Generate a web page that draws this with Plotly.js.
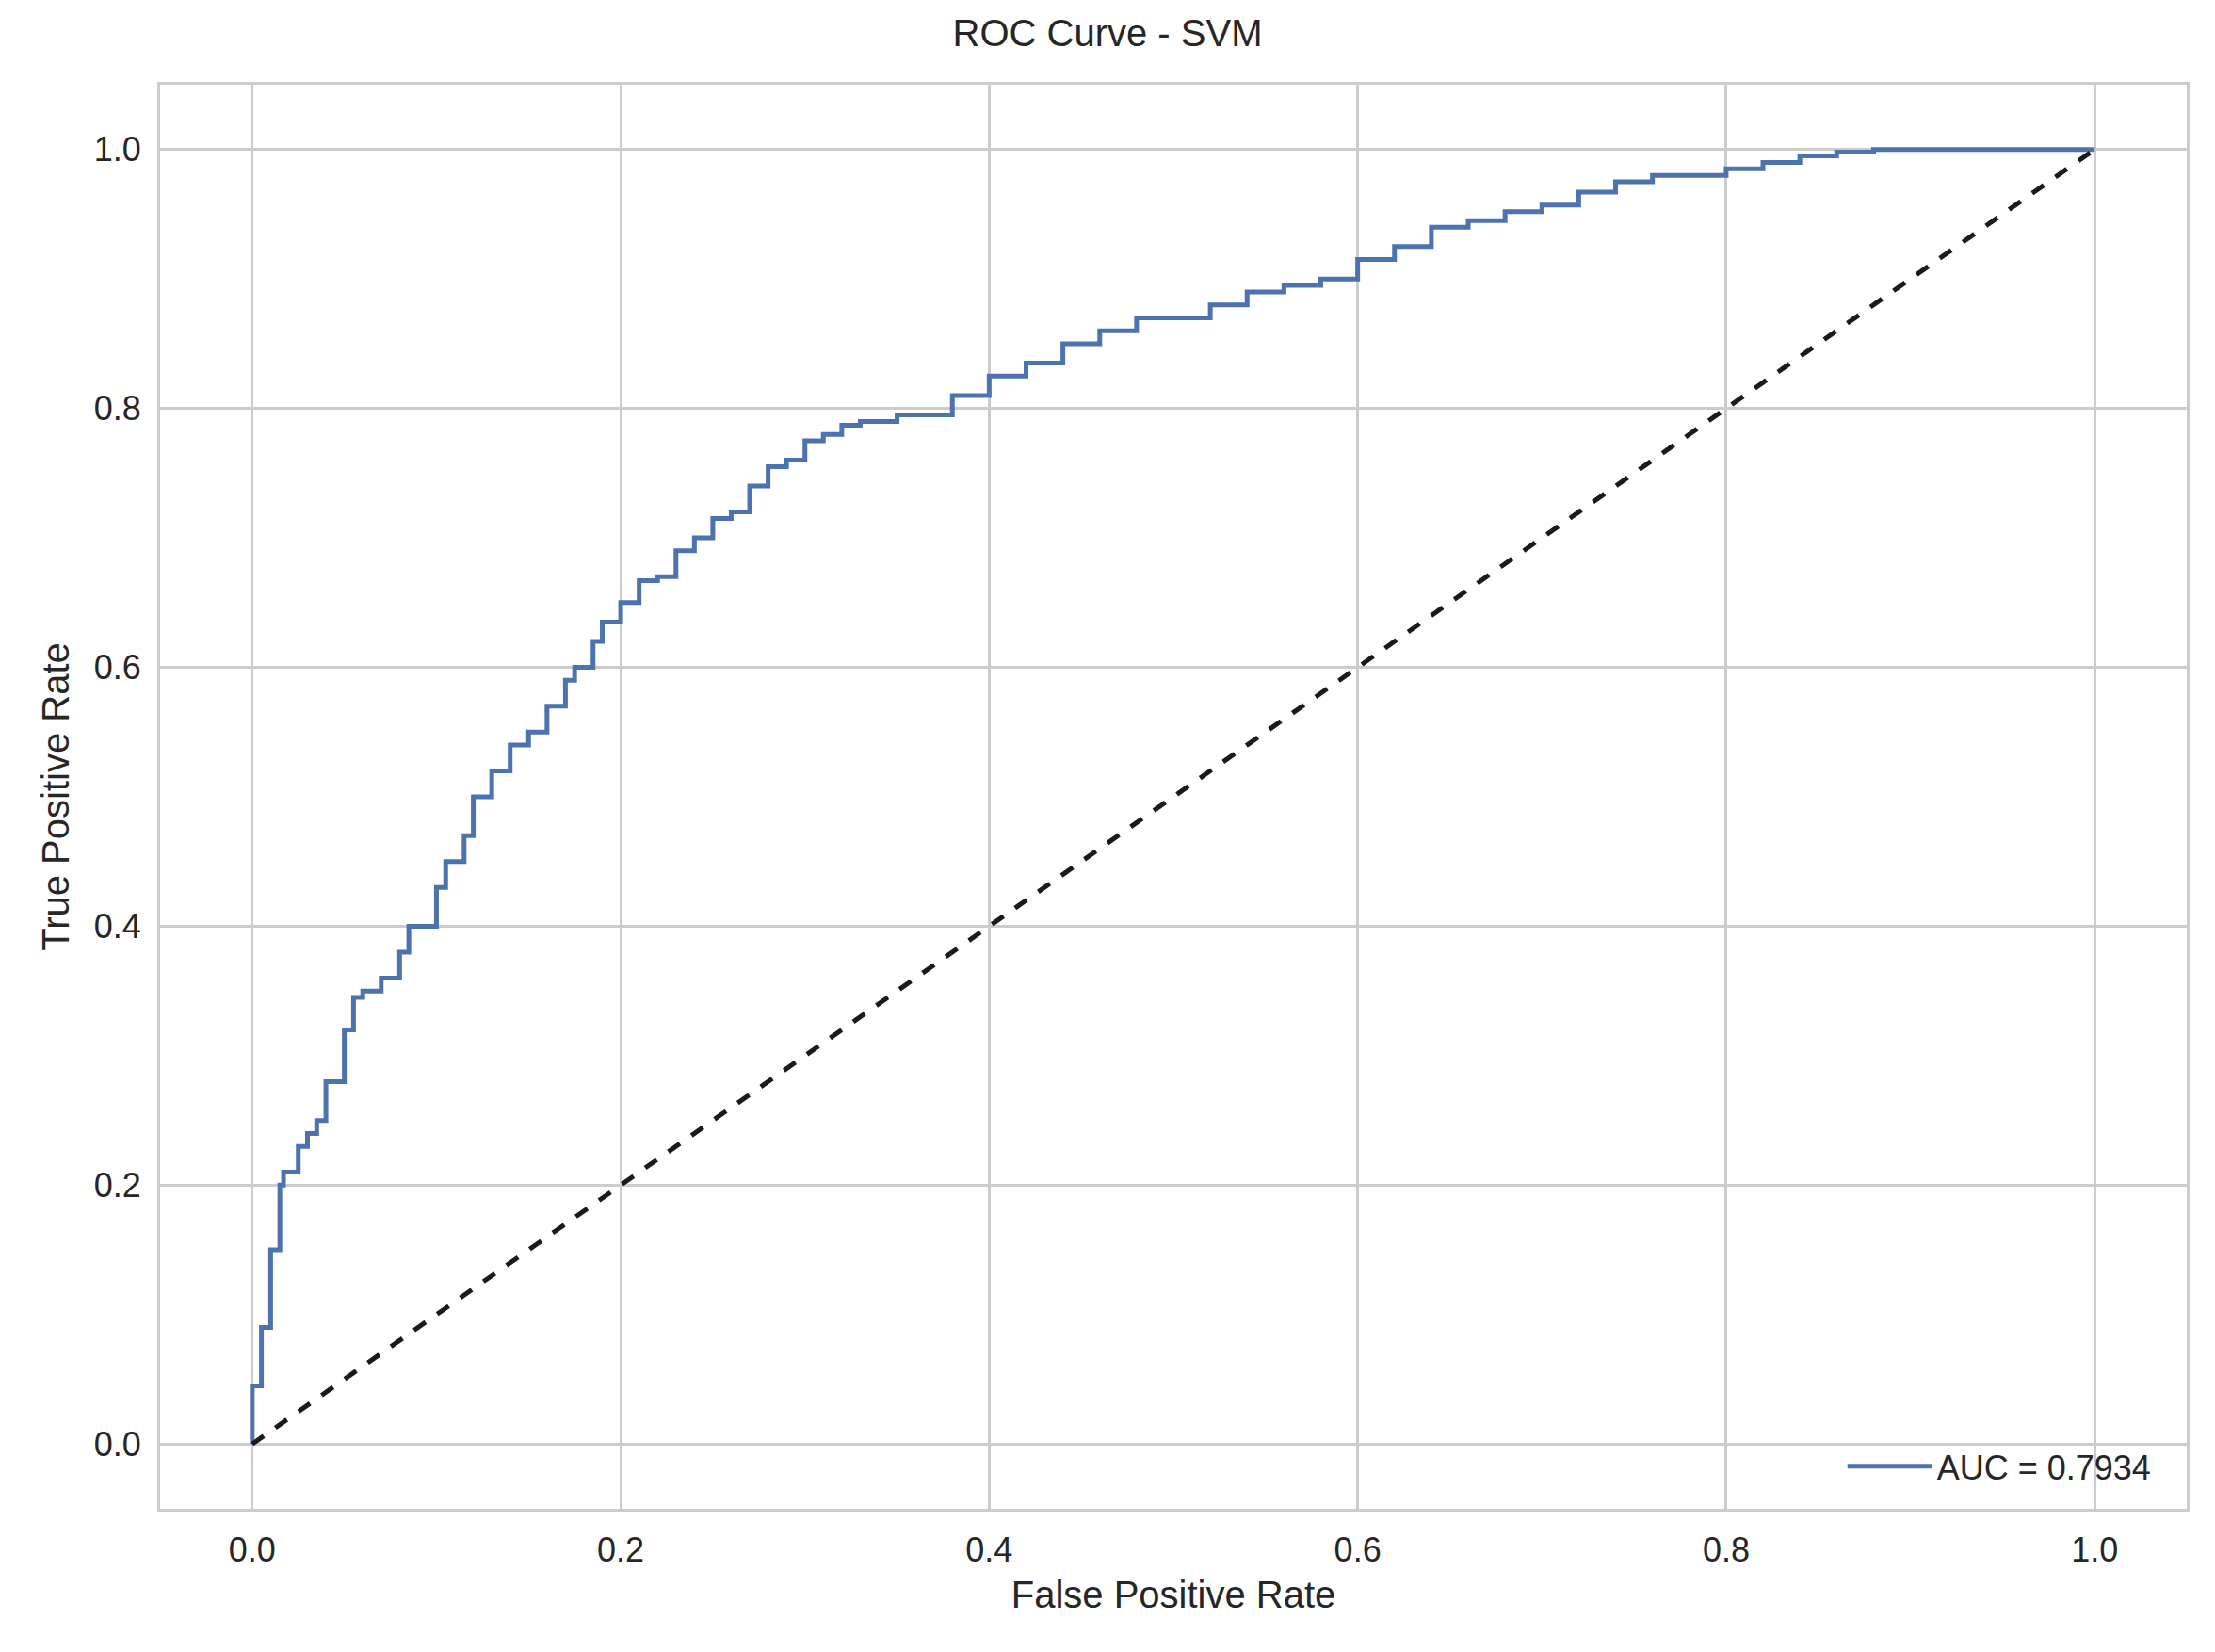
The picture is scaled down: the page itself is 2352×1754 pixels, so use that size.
<!DOCTYPE html>
<html>
<head>
<meta charset="utf-8">
<script src="https://cdn.plot.ly/plotly-3.0.1.min.js"></script>
<style>html,body{margin:0;padding:0;background:#fff}#chart{width:2352px;height:1754px}</style>
</head>
<body>
<div id="chart"></div>
<script>
'use strict';

const fpr = [0, 0, 0.005, 0.005, 0.01, 0.01, 0.015, 0.017, 0.02, 0.025, 0.03, 0.035, 0.04, 0.04, 0.05, 0.05,
  0.055, 0.06, 0.07, 0.08, 0.085, 0.1, 0.105, 0.115, 0.12, 0.13, 0.14, 0.15, 0.16, 0.17, 0.175, 0.185, 0.19,
  0.2, 0.21, 0.22, 0.23, 0.24, 0.25, 0.26, 0.27, 0.28, 0.29, 0.3, 0.31, 0.32, 0.33, 0.35, 0.38, 0.4, 0.42,
  0.44, 0.46, 0.48, 0.5, 0.52, 0.54, 0.56, 0.58, 0.6, 0.62, 0.64, 0.66, 0.68, 0.7, 0.72, 0.74, 0.76, 0.78,
  0.8, 0.82, 0.84, 0.86, 0.88, 0.9, 1];
const tpr = [0, 0.04, 0.045, 0.08, 0.09, 0.12, 0.15, 0.2, 0.21, 0.21, 0.23, 0.24, 0.25, 0.27, 0.28, 0.3,
  0.32, 0.345, 0.35, 0.36, 0.38, 0.4, 0.43, 0.45, 0.47, 0.5, 0.52, 0.54, 0.55, 0.57, 0.59, 0.6, 0.62,
  0.635, 0.65, 0.667, 0.67, 0.69, 0.7, 0.715, 0.72, 0.74, 0.755, 0.76, 0.775, 0.78, 0.787, 0.79, 0.795, 0.81, 0.825,
  0.835, 0.85, 0.86, 0.87, 0.87, 0.88, 0.89, 0.895, 0.9, 0.915, 0.925, 0.94, 0.945, 0.952, 0.957, 0.967, 0.975, 0.98,
  0.98, 0.985, 0.99, 0.995, 0.998, 1, 1];
const aucLabel = 'AUC = 0.7934';
const diag = [0, 1];

const font = { family: 'Liberation Sans, Arial, sans-serif', color: '#262626' };
const axisBase = {
  range: [-0.05, 1.05], dtick: 0.2, tickformat: '.1f',
  showgrid: true, gridcolor: '#cccccc', gridwidth: 3, zeroline: false,
  showline: true, linecolor: '#cccccc', linewidth: 3, mirror: true,
  ticks: 'outside', ticklen: 10, tickcolor: 'rgba(0,0,0,0)', tickfont: { size: 36, color: '#262626' },
};

Plotly.newPlot('chart', [
  { x: fpr, y: tpr, type: 'scatter', mode: 'lines', line: { color: '#4c72b0', width: 5, shape: 'vh' }, name: aucLabel },
  { x: diag, y: diag, type: 'scatter', mode: 'lines', line: { color: '#1a1a1a', width: 5, dash: 'dash' }, showlegend: false },
], {
  width: 2352, height: 1754, font,
  paper_bgcolor: '#fff', plot_bgcolor: '#fff',
  margin: { l: 170, r: 30, t: 90, b: 152 },
  title: { text: 'ROC Curve - SVM', font: { size: 40, color: '#262626' }, x: 0.5, xanchor: 'center', y: 0.988, yanchor: 'top' },
  xaxis: { ...axisBase, title: { text: 'False Positive Rate', font: { size: 40 }, standoff: 14 } },
  yaxis: { ...axisBase, title: { text: 'True Positive Rate', font: { size: 40 }, standoff: 14 } },
  legend: { x: 0.985, y: 0.01, xanchor: 'right', yanchor: 'bottom', bgcolor: 'rgba(0,0,0,0)', font: { size: 36 }, itemwidth: 90 },
  showlegend: true,
}, { displayModeBar: false, staticPlot: true });
</script>
</body>
</html>
